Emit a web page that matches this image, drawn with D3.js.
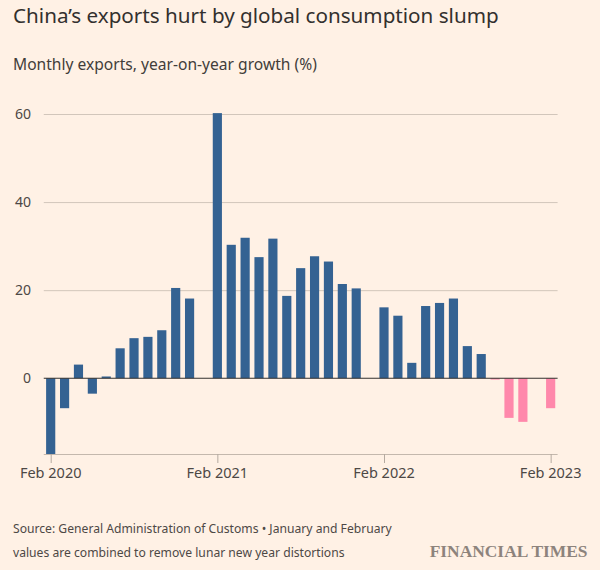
<!DOCTYPE html>
<html>
<head>
<meta charset="utf-8">
<script src="https://cdn.jsdelivr.net/npm/d3@7"></script>
<style>
  html, body { margin: 0; padding: 0; background: #fff1e5; }
  svg { display: block; }
</style>
</head>
<body>
<script>
// ---- DATA ----
const months = [
  "Feb 2020","Mar 2020","Apr 2020","May 2020","Jun 2020","Jul 2020","Aug 2020","Sep 2020","Oct 2020","Nov 2020","Dec 2020","Jan 2021",
  "Feb 2021","Mar 2021","Apr 2021","May 2021","Jun 2021","Jul 2021","Aug 2021","Sep 2021","Oct 2021","Nov 2021","Dec 2021","Jan 2022",
  "Feb 2022","Mar 2022","Apr 2022","May 2022","Jun 2022","Jul 2022","Aug 2022","Sep 2022","Oct 2022","Nov 2022","Dec 2022","Jan 2023",
  "Feb 2023"
];
// Jan values are combined with Feb (null = no bar)
const growth = [
  -17.2, -6.8, 3.1, -3.5, 0.4, 6.8, 9.1, 9.4, 10.9, 20.5, 18.1, null,
  60.2, 30.3, 31.9, 27.5, 31.7, 18.7, 25.0, 27.7, 26.5, 21.4, 20.4, null,
  16.1, 14.2, 3.5, 16.4, 17.1, 18.1, 7.3, 5.5, -0.3, -9.0, -9.9, null,
  -6.8
];
const slumpFrom = "Oct 2022";
const yTicks = [0, 20, 40, 60];
const xTickLabels = ["Feb 2020", "Feb 2021", "Feb 2022", "Feb 2023"];
const title = "China\u2019s exports hurt by global consumption slump";
const subtitle = "Monthly exports, year-on-year growth (%)";
const sourceLines = [
  "Source: General Administration of Customs \u2022 January and February",
  "values are combined to remove lunar new year distortions"
];
const brand = "FINANCIAL TIMES";

// ---- CHART ----
const W = 600, H = 570;
const svg = d3.select("body").append("svg").attr("width", W).attr("height", H);
svg.append("rect").attr("width", W).attr("height", H).attr("fill", "#fff1e5");

const data = months.map((m, i) => ({ m, v: growth[i], slump: i >= months.indexOf(slumpFrom) }));

const x = d3.scaleBand().domain(months).range([43.75, 557.6]).paddingInner(0.34).paddingOuter(0.17);
const y = d3.scaleLinear().domain([-17.2, 60]).range([454, 114]);

const font = "'Noto Sans', 'Open Sans', sans-serif";

function fit(sel, target) {
  const n = sel.node();
  const fs = parseFloat(sel.attr("font-size"));
  const w = n.getComputedTextLength();
  if (w > 0) sel.attr("font-size", (fs * target / w).toFixed(2));
  return sel;
}

// gridlines
svg.append("g").selectAll("line").data(yTicks.filter(t => t !== 0)).join("line")
  .attr("x1", x.range()[0]).attr("x2", x.range()[1])
  .attr("y1", d => y(d) + 0.5).attr("y2", d => y(d) + 0.5)
  .attr("stroke", "#d2c6bb").attr("stroke-width", 1);

// y labels
svg.append("g").selectAll("text").data(yTicks).join("text")
  .attr("x", 31).attr("y", d => y(d) + 5)
  .attr("text-anchor", "end")
  .attr("font-family", font).attr("font-size", 14)
  .attr("fill", "#4d4845")
  .text(d => d);

// bottom axis
const xAxis = d3.axisBottom(x).tickValues(xTickLabels).tickSize(9).tickPadding(5).tickSizeOuter(0);
const gx = svg.append("g").attr("transform", `translate(0,${454})`).call(xAxis);
gx.select(".domain").attr("stroke", "#c4b8ad").attr("d", `M${x.range()[0]},0.5H${x.range()[1]}`);
gx.selectAll(".tick line").attr("stroke", "#b5aaa0").attr("transform", "translate(0.5,0)");
gx.selectAll(".tick text").attr("font-family", font).attr("font-size", 14.5).attr("fill", "#4d4845").attr("dy", "0.72em");

// bars
svg.append("g").selectAll("rect").data(data.filter(d => d.v !== null)).join("rect")
  .attr("x", d => x(d.m))
  .attr("width", x.bandwidth())
  .attr("y", d => Math.min(y(d.v), y(0)))
  .attr("height", d => Math.max(0.8, Math.abs(y(d.v) - y(0))))
  .attr("fill", d => d.slump ? "#ff88ab" : "#346292");

// zero line
svg.append("line")
  .attr("x1", x.range()[0]).attr("x2", x.range()[1])
  .attr("y1", y(0)).attr("y2", y(0))
  .attr("stroke", "#33302e").attr("stroke-width", 1.2);

// titles
const t = svg.append("text").attr("x", 13).attr("y", 23)
  .attr("font-family", font).attr("font-size", 21).attr("fill", "#33302e").text(title);
fit(t, 486);
const st = svg.append("text").attr("x", 13).attr("y", 70)
  .attr("font-family", font).attr("font-size", 16).attr("fill", "#423d3a").text(subtitle);
fit(st, 304);

// source
const s1 = svg.append("text").attr("x", 13).attr("y", 533)
  .attr("font-family", font).attr("font-size", 13).attr("fill", "#4d4845").text(sourceLines[0]);
fit(s1, 379);
const s2 = svg.append("text").attr("x", 13).attr("y", 557)
  .attr("font-family", font).attr("font-size", +s1.attr("font-size")).attr("fill", "#4d4845").text(sourceLines[1]);

// brand
const b = svg.append("text").attr("x", 587.5).attr("y", 556.5).attr("text-anchor", "end")
  .attr("font-family", "'Liberation Serif', 'DejaVu Serif', serif").attr("font-weight", "bold")
  .attr("font-size", 18).attr("fill", "#8d837c").text(brand);
fit(b, 158);
</script>
</body>
</html>
